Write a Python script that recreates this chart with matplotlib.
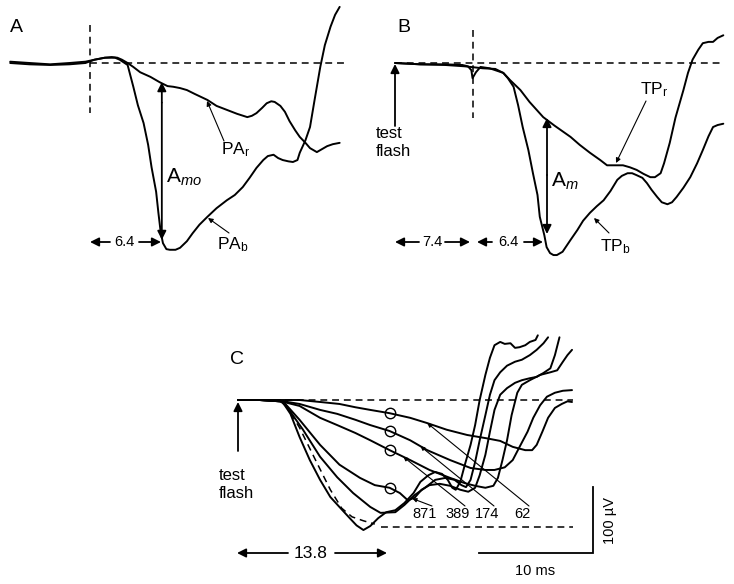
import matplotlib
matplotlib.use("Agg")
import matplotlib.pyplot as plt
import numpy as np
from matplotlib.transforms import Affine2D

plt.rcParams['font.family'] = ['Liberation Sans', 'DejaVu Sans']
plt.rcParams['mathtext.fontset'] = 'custom'
plt.rcParams['mathtext.rm'] = 'Liberation Sans'
plt.rcParams['mathtext.it'] = 'Liberation Sans:italic'

# ---------------- data (time in ms, voltage in µV) ----------------
# Panel A
pa_b_t = [-7.0, -5.3, -3.5, -1.8, -0.4, 0.4, 1.3, 2.2, 2.6, 3.3, 3.8, 4.2, 4.7, 5.1, 5.4,
          5.8, 6.0, 6.2, 6.4, 6.7, 7.0, 7.5, 7.9, 8.5, 9.0, 9.6, 10.3, 11.1, 12.0, 12.7,
          13.4, 14.0, 14.6, 15.2, 15.6, 16.1, 16.5, 16.9, 17.4, 17.8, 18.2, 18.4, 18.9, 19.3,
          19.7, 20.2, 20.6, 21.1, 21.5, 21.9]
pa_b_v = [2, 0, -2, 0, 2, 5, 8, 8, 5, -3, -36, -64, -91, -124, -158,
          -195, -227, -256, -273, -282, -283, -283, -280, -270, -258, -245, -233, -220, -208, -200,
          -188, -174, -159, -147, -141, -139, -144, -147, -149, -150, -147, -136, -117, -97,
          -56, -6, 27, 55, 73, 85]
pa_r_t = [-7.0, -5.3, -3.5, -1.8, -0.4, 0.4, 1.3, 1.9, 2.4, 2.8, 3.3, 3.8, 4.4, 5.3, 6.1,
          6.8, 7.3, 7.9, 8.5, 9.2, 10.3, 11.1, 12.0, 12.9, 13.8, 14.2, 14.6, 15.1, 15.5, 15.9,
          16.2, 16.7, 17.1, 17.5, 18.0, 18.4, 18.9, 19.3, 19.9, 20.4, 20.8, 21.3, 21.9]
pa_r_v = [0, -2, -3, -2, 0, 5, 8, 9, 8, 5, 0, -6, -14, -21, -29,
          -35, -36, -38, -41, -47, -56, -65, -71, -77, -82, -80, -76, -68, -61, -58,
          -59, -65, -74, -88, -102, -112, -121, -129, -135, -130, -126, -123, -121]

# Panel B
tp_b_t = [0, 2.2, 4.4, 6.1, 7.7, 8.8, 9.5, 9.9, 10.4, 10.8, 11.2, 11.7, 12.1, 12.5, 12.7,
          13.1, 13.3, 13.6, 13.9, 14.2, 14.7, 15.4, 16.0, 16.5, 17.1, 17.7, 18.3, 18.9, 19.5, 19.9,
          20.4, 20.8, 21.2, 21.7, 22.1, 22.5, 23.0, 23.4, 23.9, 24.3, 24.7, 25.3, 25.9, 26.5, 27.0,
          27.5, 27.9, 28.3, 28.8]
tp_b_v = [0, -2, -3, -5, -8, -9, -15, -23, -36, -64, -97, -132, -167, -200, -233,
          -261, -279, -288, -291, -291, -286, -268, -253, -239, -227, -217, -208, -194, -177, -171,
          -167, -167, -170, -174, -182, -192, -203, -211, -214, -211, -203, -189, -173, -152, -132,
          -111, -97, -94, -92]
tp_r_t = [0, 2.2, 4.4, 5.9, 6.4, 6.7, 6.8, 7.1, 7.5, 8.3, 9.5, 10.1, 11.0, 11.8, 13.0,
          14.0, 15.4, 16.2, 17.1, 18.0, 18.6, 19.3, 20.0, 20.6, 21.2, 21.8, 22.4, 22.8, 23.3, 23.6,
          24.1, 24.6, 25.3, 25.7, 26.1, 26.6, 27.0, 27.5, 27.9, 28.3, 28.8]
tp_r_v = [0, -2, -2, -3, -5, -11, -23, -14, -6, -8, -15, -26, -41, -59, -82,
          -95, -112, -124, -136, -147, -155, -155, -155, -158, -162, -168, -173, -173, -167, -152,
          -121, -83, -41, -15, 5, 20, 30, 32, 32, 38, 42]

# Panel C: responses to test flashes of decreasing intensity
c1_t = [0, 1.9, 3.7, 4.1, 4.6, 5.4, 6.3, 7.2, 8.1, 9.0, 9.8, 10.4, 11.0, 11.6, 12.3, 13.0,
        13.8, 14.6, 15.4, 16.0, 16.7, 17.3, 17.9, 18.4, 18.8, 19.1, 19.5, 19.9, 20.4, 20.8,
        21.2, 21.7, 22.1, 22.5, 23.0, 23.4, 23.9, 24.3, 24.7, 25.2, 25.6, 26.1, 26.3]
c1_v = [0, 0, 0, -8, -21, -56, -91, -121, -147, -164, -179, -190, -197, -191, -179, -170,
        -167, -156, -141, -124, -114, -109, -112, -121, -133, -136, -124, -98, -68, -38,
        0, 38, 64, 83, 88, 85, 86, 79, 80, 83, 88, 91, 98]
c2_t = [0, 1.9, 3.7, 4.0, 4.6, 5.7, 7.2, 8.7, 10.1, 11.6, 12.5, 13.8, 14.6, 15.5, 16.4, 17.3,
        18.2, 19.0, 19.6, 20.0, 20.4, 20.8, 21.2, 21.7, 22.1, 22.5, 23.0, 23.6, 24.3, 24.9,
        25.6, 26.2, 26.8, 27.2]
c2_v = [0, 0, -2, -5, -18, -45, -86, -117, -141, -162, -171, -170, -159, -144, -133, -121,
        -118, -121, -129, -132, -121, -94, -61, -23, 8, 30, 42, 52, 58, 61,
        68, 76, 86, 95]
c871_t = [0, 1.9, 3.7, 4.0, 5.4, 7.2, 8.9, 10.7, 12.0, 13.3, 14.2, 14.9, 15.5, 16.1, 16.8, 17.7,
          18.6, 19.5, 20.2, 20.8, 21.2, 21.7, 22.1, 22.5, 23.0, 23.6, 24.3, 24.9, 25.6, 26.2,
          26.8, 27.4, 27.8, 28.2]
c871_v = [0, 0, -2, -3, -30, -68, -98, -118, -129, -133, -141, -152, -148, -136, -129, -127,
          -130, -136, -139, -133, -114, -83, -48, -15, 8, 18, 26, 30, 33, 35,
          41, 48, 68, 95]
c389_t = [0, 1.9, 3.7, 4.0, 5.4, 7.2, 8.7, 10.3, 11.6, 13.3, 15.1, 16.8, 18.6, 19.9, 20.8,
          21.7, 22.4, 22.8, 23.2, 23.6, 24.0, 24.5, 24.9, 25.6, 26.5, 27.4, 28.0, 28.5, 28.9, 29.3]
c389_v = [0, 0, -2, -3, -9, -27, -38, -50, -61, -76, -91, -106, -118, -126, -130,
          -133, -130, -118, -91, -61, -23, 11, 23, 30, 38, 42, 45, 58, 68, 76]
c174_t = [0, 1.9, 3.7, 4.0, 5.4, 7.2, 8.7, 10.3, 11.6, 13.3, 15.1, 16.6, 18.6, 20.4, 21.7,
          22.5, 23.4, 24.1, 24.7, 25.4, 25.9, 26.5, 27.1, 27.8, 28.5, 29.3]
c174_v = [0, 0, -2, -2, -6, -15, -21, -30, -38, -47, -61, -76, -91, -103, -106,
          -106, -102, -91, -71, -48, -27, -8, 5, 11, 14, 15]
c62_t = [0, 1.9, 3.7, 4.0, 5.4, 7.2, 8.9, 10.3, 11.6, 13.3, 15.1, 16.6, 18.3, 20.1, 21.8,
         23.0, 24.1, 25.2, 25.8, 26.2, 26.7, 27.2, 27.8, 28.4, 28.9, 29.3]
c62_v = [0, 0, 0, 0, 0, -3, -6, -11, -15, -20, -27, -35, -45, -53, -58,
         -62, -71, -76, -76, -68, -48, -27, -12, -6, -2, -3]
fit_t = [4.1, 5.4, 6.8, 8.1, 9.1, 10.0, 11.0, 12.0]
fit_v = [-5, -42, -91, -136, -164, -177, -183, -188]

c_labels = ['871', '389', '174', '62']
c_label_x = [425, 458, 487, 522]        # label positions (px)
c_pointer_t = [15.3, 14.5, 16.0, 16.6]  # where the pointers touch the traces (ms)
circle_t = 13.3                         # ms
c_trough_v = -192                       # µV (lower dashed line)

# ---------------- figure ----------------
W, H = 734, 584
fig = plt.figure(figsize=(W / 100, H / 100), dpi=100)
ax = fig.add_axes([0, 0, 1, 1])
ax.set_xlim(0, W)
ax.set_ylim(H, 0)
ax.axis('off')

PX_PER_MS = 11.4
PX_PER_UV = 0.66


def panel(x0, y0):
    return Affine2D().scale(PX_PER_MS, -PX_PER_UV).translate(x0, y0) + ax.transData


trA = panel(90, 63)
trB = panel(395, 63)
trC = panel(238, 400)
px = ax.transData

LW = 1.4
DASH = (0, (4.5, 3.2))


def trace(t, v, tr, **kw):
    ax.plot(t, v, color='k', lw=LW, transform=tr, solid_joinstyle='round',
            solid_capstyle='round', **kw)


def arrow(x1, y1, x2, y2, tr=px, style='-|>', lw=1.3, ms=13):
    ax.annotate('', xy=(x2, y2), xytext=(x1, y1), xycoords=tr, textcoords=tr,
                arrowprops=dict(arrowstyle=style, color='k', lw=lw, mutation_scale=ms,
                                shrinkA=0, shrinkB=0))


def txt(x, y, s, size=10, ha='center', va='center', **kw):
    ax.text(x, y, s, fontsize=size, ha=ha, va=va, color='k', **kw)


# ---- Panel A ----
trace(pa_b_t, pa_b_v, trA)
trace(pa_r_t, pa_r_v, trA)
ax.plot([0, 22.3], [0, 0], color='k', lw=1.1, ls=DASH, transform=trA)
ax.plot([0, 0], [58, -76], color='k', lw=1.1, ls=DASH, transform=trA)
arrow(6.3, -60, 6.3, -29, tr=trA)
arrow(6.3, -60, 6.3, -268, tr=trA)
txt(10, 28, 'A', size=14, ha='left')
txt(166, 177, r'A$_{\mathit{mo}}$', size=15, ha='left')
txt(221, 150, r'PA$_\mathregular{r}$', size=12.5, ha='left')
txt(217, 245, r'PA$_\mathregular{b}$', size=12.5, ha='left')
arrow(224, 141, 207, 101, lw=0.8, ms=7)
arrow(229, 233, 208, 218, lw=0.8, ms=7)
arrow(110, 242, 90, 242)
arrow(139, 242, 161, 242)
txt(124, 242, '6.4', size=10.5)

# ---- Panel B ----
trace(tp_b_t, tp_b_v, trB)
trace(tp_r_t, tp_r_v, trB)
ax.plot([0, 28.9], [0, 0], color='k', lw=1.1, ls=DASH, transform=trB)
ax.plot([6.85, 6.85], [50, -83], color='k', lw=1.1, ls=DASH, transform=trB)
arrow(395, 126, 395, 64)
txt(376, 133, 'test', size=12, ha='left')
txt(376, 151, 'flash', size=12, ha='left')
arrow(547, 175, 547, 118)
arrow(547, 175, 547, 234)
txt(397, 28, 'B', size=14, ha='left')
txt(551, 181, r'A$_{\mathit{m}}$', size=15, ha='left')
txt(640, 90, r'TP$_\mathregular{r}$', size=12.5, ha='left')
txt(600, 247, r'TP$_\mathregular{b}$', size=12.5, ha='left')
arrow(646, 101, 616, 163, lw=0.8, ms=7)
arrow(609, 233, 594, 218, lw=0.8, ms=7)
arrow(419, 242, 395, 242)
arrow(445, 242, 470, 242)
txt(432, 242, '7.4', size=10.5)
arrow(492, 242, 477, 242)
arrow(524, 242, 543, 242)
txt(508, 242, '6.4', size=10.5)

# ---- Panel C ----
for t, v in [(c62_t, c62_v), (c174_t, c174_v), (c389_t, c389_v),
             (c871_t, c871_v), (c2_t, c2_v), (c1_t, c1_v)]:
    trace(t, v, trC)
ax.plot(fit_t, fit_v, color='k', lw=1.1, ls=DASH, transform=trC)
ax.plot([0, 29.4], [0, 0], color='k', lw=1.1, ls=DASH, transform=trC)
ax.plot([12.5, 29.4], [c_trough_v, c_trough_v], color='k', lw=1.1, ls=DASH, transform=trC)

circ_traces = [(c871_t, c871_v), (c389_t, c389_v), (c174_t, c174_v), (c62_t, c62_v)]
for t, v in circ_traces:
    vc = np.interp(circle_t, t, v)
    ax.plot([circle_t], [vc], 'o', mfc='none', mec='k', ms=7.5, mew=1.0, transform=trC)

for (t, v), lab, lx, pt in zip(circ_traces, c_labels, c_label_x, c_pointer_t):
    txt(lx, 514, lab, size=10.5)
    pv = np.interp(pt, t, v)
    tx, ty = trC.transform((pt, pv))
    x2, y2 = px.inverted().transform((tx, ty))
    arrow(lx + 7, 506, x2, y2, lw=0.8, ms=6)

arrow(238, 451, 238, 402)
txt(219, 476, 'test', size=12, ha='left')
txt(219, 494, 'flash', size=12, ha='left')
txt(230, 360, 'C', size=14, ha='left')

arrow(288, 553, 237, 553)
arrow(335, 553, 387, 553)
txt(311, 553, '13.8', size=12.5)

# scale bars: 10 ms and 100 µV
ax.plot([21.1, 31.1, 31.1], [-232, -232, -132], color='k', lw=1.3, transform=trC,
        solid_joinstyle='miter')
txt(535, 571, '10 ms', size=10.5)
txt(610, 521, '100 µV', size=10.5, rotation=90)

fig.savefig('out.png', dpi=100)
